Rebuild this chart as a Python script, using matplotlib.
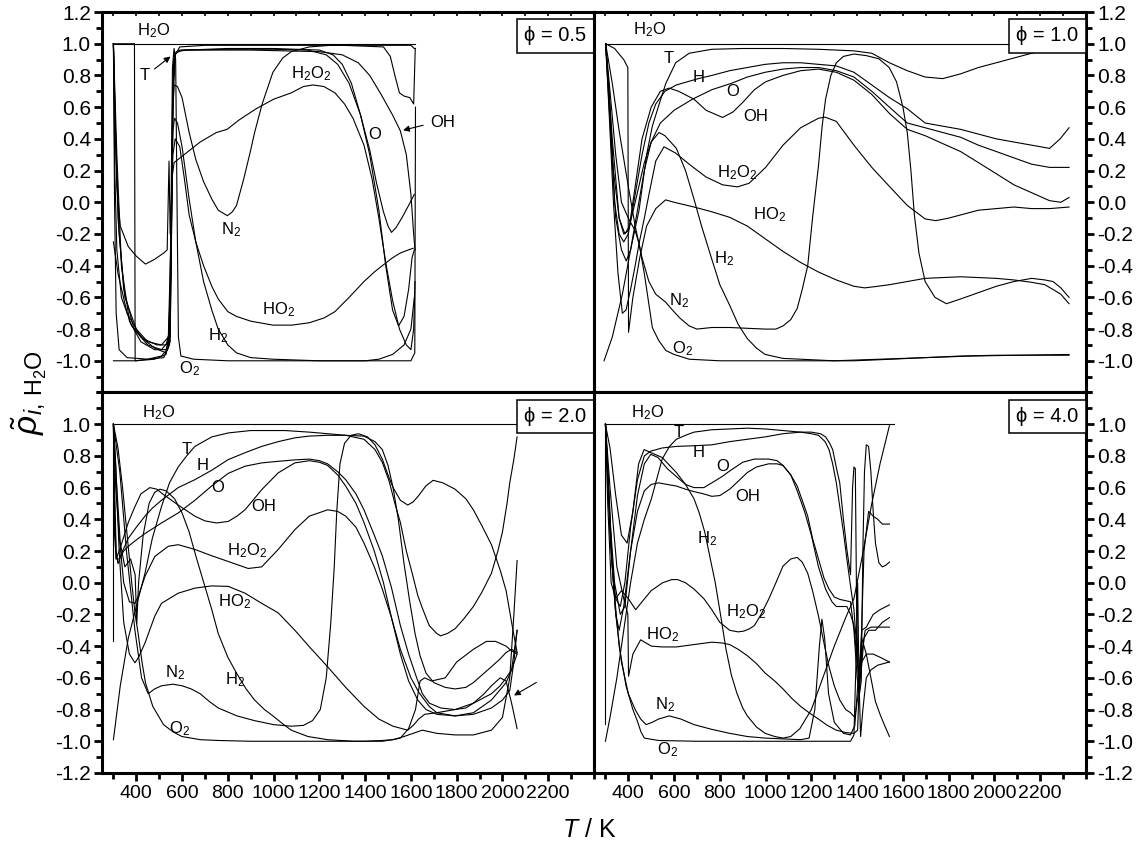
import matplotlib.pyplot as plt
from matplotlib.ticker import FixedLocator, MultipleLocator

plt.rcParams["font.family"] = ["Liberation Sans", "DejaVu Sans"]
plt.rcParams["mathtext.fontset"] = "custom"
plt.rcParams["mathtext.rm"] = "Liberation Sans"
plt.rcParams["mathtext.it"] = "Liberation Sans:italic"
plt.rcParams["mathtext.bf"] = "Liberation Sans:bold"
plt.rcParams["mathtext.default"] = "regular"
plt.rcParams["axes.unicode_minus"] = False

# correlation coefficient with H2O vs temperature, (T [K], rho) pairs per species

phi05 = {
    "H2O": [(300, 1.0), (1620, 1.0)],
    "H": [(300, 1.0), (392, 1.0), (395, -1.0), (450, -0.99), (510, -0.97), (540, -0.92), (552, -0.4),
          (560, 0.6), (570, 0.93), (590, 0.98), (700, 0.99), (1000, 0.99), (1300, 0.99), (1480, 0.98),
          (1510, 0.92), (1530, 0.8), (1550, 0.69), (1570, 0.67), (1595, 0.66), (1612, 0.62), (1619, 0.97)],
    "N2": [(300, 1.0), (310, 0.4), (325, -0.2), (350, -0.6), (400, -0.8), (450, -0.88), (510, -0.9),
           (540, -0.85), (552, -0.2), (558, 0.5), (565, 0.74), (580, 0.73), (600, 0.66), (631, 0.44),
           (660, 0.27), (694, 0.13), (730, 0.02), (758, -0.05), (798, -0.085), (820, -0.06), (838, -0.02),
           (870, 0.15), (900, 0.33), (917, 0.44), (950, 0.62), (997, 0.82), (1040, 0.91), (1077, 0.95),
           (1156, 0.98), (1250, 0.99), (1600, 0.99), (1615, 0.97), (1620, 0.97)],
    "T": [(300, 1.0), (305, 0.0), (312, -0.7), (325, -0.93), (360, -0.98), (450, -0.99), (520, -0.98),
          (545, -0.9), (553, -0.2), (558, 0.6), (563, 0.9), (575, 0.95), (620, 0.96), (800, 0.97),
          (1000, 0.97), (1200, 0.96), (1260, 0.93), (1300, 0.87), (1340, 0.75), (1380, 0.55), (1420, 0.3),
          (1460, -0.05), (1490, -0.4), (1520, -0.68), (1546, -0.78), (1570, -0.72), (1590, -0.55),
          (1605, -0.35), (1615, -0.3)],
    "O": [(300, 1.0), (315, 0.3), (335, -0.4), (370, -0.75), (420, -0.88), (480, -0.93), (530, -0.93),
          (548, -0.85), (554, -0.1), (560, 0.7), (568, 0.93), (590, 0.96), (800, 0.965), (1000, 0.965),
          (1150, 0.96), (1230, 0.93), (1280, 0.87), (1330, 0.75), (1380, 0.55), (1420, 0.33), (1450, 0.12),
          (1480, -0.06), (1500, -0.15), (1515, -0.19), (1535, -0.16), (1560, -0.1), (1590, -0.02),
          (1615, 0.05)],
    "OH": [(300, -0.25), (320, -0.45), (360, -0.7), (420, -0.85), (480, -0.92), (530, -0.95), (548, -0.88),
           (555, -0.1), (561, 0.75), (570, 0.94), (600, 0.96), (900, 0.96), (1200, 0.95), (1300, 0.93),
           (1370, 0.88), (1420, 0.8), (1470, 0.68), (1520, 0.55), (1554, 0.45), (1580, 0.3), (1600, 0.05),
           (1612, -0.2), (1618, -0.3)],
    "H2O2": [(300, 1.0), (308, 0.5), (320, -0.1), (345, -0.55), (390, -0.8), (450, -0.9), (510, -0.93),
             (540, -0.88), (550, -0.5), (556, 0.15), (565, 0.25), (600, 0.29), (679, 0.38), (750, 0.44),
             (797, 0.46), (850, 0.52), (924, 0.59), (1000, 0.65), (1077, 0.69), (1130, 0.73), (1172, 0.74),
             (1220, 0.73), (1268, 0.69), (1310, 0.62), (1347, 0.53), (1395, 0.36), (1430, 0.15),
             (1460, -0.1), (1490, -0.38), (1520, -0.62), (1550, -0.8), (1580, -0.9), (1600, -0.93),
             (1612, -0.8), (1618, -0.5)],
    "HO2": [(300, 1.0), (305, 0.6), (315, 0.1), (330, -0.15), (365, -0.28), (400, -0.34), (440, -0.39),
            (480, -0.36), (520, -0.32), (535, -0.3), (543, 0.26), (548, -0.2), (553, 0.0), (560, 0.3),
            (570, 0.4), (590, 0.35), (610, 0.15), (631, -0.08), (660, -0.25), (694, -0.4), (730, -0.53),
            (758, -0.61), (800, -0.69), (838, -0.72), (900, -0.75), (997, -0.775), (1080, -0.775),
            (1156, -0.76), (1220, -0.73), (1268, -0.69), (1330, -0.6), (1395, -0.5), (1440, -0.44),
            (1475, -0.4), (1520, -0.35), (1554, -0.32), (1590, -0.3), (1610, -0.29)],
    "H2": [(300, 1.0), (306, 0.2), (315, -0.3), (335, -0.6), (380, -0.78), (430, -0.86), (490, -0.9),
           (530, -0.9), (548, -0.8), (554, 0.0), (560, 0.45), (567, 0.53), (580, 0.5), (600, 0.35),
           (631, 0.02), (660, -0.25), (694, -0.5), (730, -0.68), (758, -0.8), (800, -0.9), (838, -0.95),
           (900, -0.98), (997, -0.99), (1200, -1.0), (1400, -1.0), (1460, -0.99), (1520, -0.96),
           (1570, -0.9), (1600, -0.8), (1615, -0.6)],
    "O2": [(300, -1.0), (400, -1.0), (480, -0.99), (530, -0.96), (545, -0.8), (552, 0.0), (558, 0.85),
           (565, 0.97), (572, 0.9), (578, 0.0), (584, -0.85), (595, -0.97), (650, -0.99), (800, -1.0),
           (1600, -1.0), (1617, -0.95), (1620, 0.6)],
}

phi10 = {
    "H2O": [(300, 1.0), (2330, 1.0)],
    "T": [(294, -1.0), (330, -0.85), (374, -0.58), (410, -0.3), (447, -0.05), (480, 0.3), (505, 0.48),
          (535, 0.62), (564, 0.75), (607, 0.88), (666, 0.94), (765, 0.965), (900, 0.97), (1076, 0.97),
          (1231, 0.965), (1386, 0.955), (1464, 0.94), (1541, 0.88), (1619, 0.83), (1697, 0.79),
          (1774, 0.78), (1852, 0.81), (1930, 0.85), (2008, 0.88), (2085, 0.91), (2163, 0.94), (2250, 0.97)],
    "H": [(301, 1.0), (320, 0.6), (340, 0.0), (360, -0.2), (380, -0.25), (400, -0.2), (430, 0.05),
          (460, 0.3), (490, 0.5), (520, 0.62), (560, 0.7), (610, 0.74), (706, 0.78), (765, 0.8),
          (843, 0.83), (920, 0.85), (998, 0.87), (1076, 0.88), (1153, 0.88), (1231, 0.87), (1309, 0.86),
          (1386, 0.82), (1464, 0.74), (1541, 0.66), (1619, 0.59), (1697, 0.5), (1774, 0.48), (1852, 0.46),
          (1930, 0.43), (2008, 0.4), (2085, 0.38), (2163, 0.36), (2241, 0.34), (2287, 0.4), (2326, 0.47)],
    "O": [(301, 1.0), (320, 0.5), (345, -0.1), (370, -0.3), (391, -0.37), (410, -0.3), (440, -0.05),
          (470, 0.2), (500, 0.38), (540, 0.5), (600, 0.58), (680, 0.65), (765, 0.71), (850, 0.75),
          (920, 0.79), (998, 0.82), (1076, 0.84), (1153, 0.85), (1231, 0.85), (1309, 0.83), (1386, 0.79),
          (1464, 0.7), (1541, 0.6), (1619, 0.5), (1697, 0.47), (1774, 0.44), (1852, 0.41), (1930, 0.36),
          (2008, 0.32), (2085, 0.28), (2163, 0.24), (2241, 0.22), (2326, 0.22)],
    "OH": [(301, 1.0), (315, 0.7), (335, 0.2), (360, -0.1), (385, -0.2), (405, -0.15), (430, 0.1),
           (460, 0.4), (500, 0.6), (540, 0.7), (578, 0.72), (620, 0.7), (687, 0.65), (740, 0.58),
           (812, 0.535), (858, 0.57), (900, 0.63), (951, 0.71), (1000, 0.76), (1076, 0.8), (1153, 0.83),
           (1231, 0.84), (1309, 0.82), (1386, 0.77), (1464, 0.68), (1541, 0.56), (1619, 0.46), (1697, 0.42),
           (1774, 0.37), (1852, 0.32), (1930, 0.25), (2008, 0.18), (2085, 0.11), (2163, 0.06), (2241, 0.01),
           (2290, 0.0), (2326, 0.03)],
    "H2O2": [(301, 1.0), (315, 0.6), (335, 0.0), (355, -0.45), (374, -0.7), (390, -0.68), (410, -0.55),
             (430, -0.4), (447, -0.26), (470, -0.1), (491, 0.055), (520, 0.26), (556, 0.35), (607, 0.31),
             (666, 0.24), (739, 0.16), (812, 0.11), (877, 0.097), (928, 0.12), (1000, 0.22), (1076, 0.36),
             (1153, 0.47), (1231, 0.53), (1260, 0.537), (1309, 0.51), (1386, 0.36), (1464, 0.22),
             (1541, 0.1), (1619, -0.02), (1697, -0.105), (1743, -0.116), (1800, -0.1), (1852, -0.08),
             (1930, -0.05), (2008, -0.04), (2085, -0.03), (2163, -0.04), (2241, -0.04), (2326, -0.03)],
    "HO2": [(301, 1.0), (340, 0.97), (380, 0.9), (398, 0.85), (401, -0.82), (420, -0.6), (450, -0.35),
            (480, -0.15), (520, -0.04), (563, 0.015), (600, 0.0), (687, -0.03), (765, -0.06), (843, -0.095),
            (920, -0.15), (998, -0.23), (1076, -0.31), (1153, -0.38), (1231, -0.44), (1309, -0.49),
            (1386, -0.53), (1433, -0.54), (1490, -0.53), (1541, -0.52), (1619, -0.5), (1697, -0.48),
            (1774, -0.475), (1852, -0.47), (1930, -0.475), (2008, -0.48), (2085, -0.49), (2163, -0.505),
            (2220, -0.52), (2256, -0.55), (2290, -0.58), (2326, -0.64)],
    "H2": [(301, 1.0), (330, 0.4), (360, -0.1), (380, -0.2), (400, -0.18), (430, 0.0), (470, 0.25),
           (500, 0.38), (534, 0.44), (560, 0.42), (610, 0.34), (650, 0.2), (687, 0.02), (720, -0.15),
           (765, -0.36), (800, -0.52), (843, -0.65), (880, -0.77), (920, -0.86), (960, -0.92), (998, -0.96),
           (1076, -0.985), (1153, -0.99), (1300, -1.0), (1500, -0.99), (1700, -0.98), (1900, -0.97),
           (2100, -0.965), (2326, -0.96)],
    "N2": [(301, 1.0), (330, 0.75), (360, 0.45), (400, 0.1), (430, -0.15), (460, -0.35), (490, -0.5),
           (520, -0.58), (563, -0.63), (593, -0.68), (625, -0.73), (666, -0.78), (700, -0.8), (765, -0.79),
           (843, -0.79), (920, -0.795), (998, -0.8), (1045, -0.8), (1076, -0.78), (1110, -0.74),
           (1138, -0.67), (1160, -0.55), (1184, -0.4), (1205, -0.1), (1231, 0.23), (1247, 0.48),
           (1262, 0.65), (1285, 0.8), (1309, 0.88), (1340, 0.92), (1386, 0.935), (1440, 0.925),
           (1495, 0.905), (1540, 0.85), (1572, 0.76), (1600, 0.6), (1619, 0.44), (1635, 0.2), (1650, -0.08),
           (1670, -0.32), (1697, -0.5), (1740, -0.6), (1790, -0.64), (1852, -0.61), (1930, -0.57),
           (2008, -0.53), (2085, -0.5), (2163, -0.48), (2220, -0.49), (2256, -0.5), (2290, -0.54),
           (2326, -0.6)],
    "O2": [(301, 1.0), (320, 0.7), (345, 0.3), (370, 0.0), (400, -0.1), (430, -0.18), (447, -0.26),
           (470, -0.45), (505, -0.79), (532, -0.87), (564, -0.935), (600, -0.96), (666, -0.99), (800, -1.0),
           (1000, -1.0), (1386, -1.0), (1550, -0.99), (1697, -0.98), (1850, -0.97), (2008, -0.965),
           (2200, -0.965), (2326, -0.965)],
}

phi20 = {
    "H2O": [(300, -0.37), (300, 1.0), (2064, 1.0)],
    "T": [(300, -0.99), (330, -0.65), (365, -0.35), (400, -0.15), (438, 0.06), (470, 0.28), (510, 0.48),
          (545, 0.63), (583, 0.73), (620, 0.8), (656, 0.86), (730, 0.92), (802, 0.945), (900, 0.96),
          (1050, 0.96), (1156, 0.95), (1236, 0.94), (1315, 0.93), (1395, 0.905), (1443, 0.84), (1475, 0.76),
          (1505, 0.64), (1530, 0.5), (1554, 0.38), (1580, 0.2), (1602, 0.08), (1630, -0.08), (1650, -0.16),
          (1680, -0.27), (1713, -0.32), (1729, -0.335), (1760, -0.32), (1793, -0.29), (1830, -0.23),
          (1873, -0.15), (1910, -0.06), (1952, 0.06), (1980, 0.2), (2000, 0.32), (2020, 0.5), (2032, 0.63),
          (2050, 0.78), (2064, 0.92)],
    "H": [(300, 1.0), (305, 0.6), (312, 0.2), (320, 0.12), (340, 0.2), (365, 0.28), (400, 0.35), (438, 0.42),
          (470, 0.47), (510, 0.52), (583, 0.6), (656, 0.65), (730, 0.71), (802, 0.777), (875, 0.82),
          (948, 0.86), (1020, 0.89), (1093, 0.914), (1156, 0.925), (1236, 0.93), (1315, 0.93), (1395, 0.925),
          (1443, 0.89), (1475, 0.84), (1500, 0.74), (1522, 0.6), (1545, 0.4), (1570, 0.12), (1595, -0.12),
          (1618, -0.32), (1640, -0.46), (1666, -0.57), (1700, -0.63), (1750, -0.66), (1793, -0.67),
          (1840, -0.66), (1873, -0.63), (1920, -0.57), (1952, -0.53), (1990, -0.48), (2016, -0.44),
          (2040, -0.42), (2064, -0.44)],
    "O": [(300, 1.0), (305, 0.5), (312, 0.15), (325, 0.15), (345, 0.2), (365, 0.23), (400, 0.27),
          (438, 0.31), (510, 0.377), (583, 0.44), (656, 0.52), (729, 0.61), (802, 0.69), (875, 0.735),
          (948, 0.756), (1020, 0.766), (1093, 0.775), (1156, 0.78), (1200, 0.77), (1236, 0.75), (1280, 0.7),
          (1315, 0.65), (1360, 0.56), (1395, 0.46), (1440, 0.3), (1475, 0.17), (1515, -0.03), (1554, -0.27),
          (1590, -0.45), (1618, -0.57), (1650, -0.7), (1681, -0.76), (1730, -0.79), (1793, -0.8),
          (1840, -0.79), (1873, -0.76), (1920, -0.7), (1952, -0.65), (1990, -0.6), (2016, -0.62),
          (2040, -0.76), (2064, -0.92)],
    "OH": [(300, 1.0), (305, 0.3), (312, 0.15), (330, 0.22), (365, 0.38), (394, 0.48), (420, 0.56),
           (459, 0.6), (490, 0.59), (510, 0.566), (583, 0.49), (656, 0.42), (700, 0.39), (751, 0.377),
           (802, 0.387), (840, 0.42), (875, 0.46), (910, 0.52), (948, 0.587), (1020, 0.693), (1093, 0.756),
           (1156, 0.77), (1200, 0.76), (1236, 0.74), (1280, 0.68), (1315, 0.61), (1360, 0.5), (1395, 0.38),
           (1440, 0.2), (1480, 0.0), (1520, -0.25), (1554, -0.45), (1590, -0.62), (1630, -0.74),
           (1666, -0.8), (1713, -0.83), (1793, -0.84), (1873, -0.83), (1952, -0.79), (2000, -0.74),
           (2032, -0.68), (2050, -0.5), (2064, -0.3)],
    "H2O2": [(300, 1.0), (310, 0.6), (325, 0.3), (345, 0.0), (370, -0.12), (394, -0.13), (410, -0.08),
             (438, 0.04), (481, 0.166), (540, 0.23), (583, 0.24), (656, 0.21), (730, 0.17), (802, 0.134),
             (889, 0.09), (948, 0.1), (1020, 0.21), (1093, 0.335), (1156, 0.42), (1236, 0.46), (1280, 0.45),
             (1315, 0.42), (1360, 0.35), (1395, 0.25), (1440, 0.1), (1475, -0.04), (1515, -0.22),
             (1554, -0.42), (1600, -0.6), (1634, -0.69), (1680, -0.78), (1713, -0.82), (1793, -0.84),
             (1873, -0.82), (1952, -0.74), (2016, -0.63), (2040, -0.55), (2064, -0.3)],
    "HO2": [(300, 1.0), (310, 0.75), (325, 0.2), (345, -0.25), (370, -0.45), (394, -0.505), (410, -0.47),
            (438, -0.38), (481, -0.21), (510, -0.13), (583, -0.066), (656, -0.034), (729, -0.02),
            (802, -0.023), (875, -0.066), (948, -0.13), (1020, -0.19), (1093, -0.3), (1160, -0.41),
            (1236, -0.53), (1315, -0.66), (1395, -0.78), (1460, -0.86), (1522, -0.905), (1586, -0.93),
            (1610, -0.9), (1634, -0.86), (1660, -0.83), (1713, -0.82), (1793, -0.8), (1873, -0.76),
            (1952, -0.7), (1990, -0.65), (2016, -0.6), (2040, -0.55), (2064, -0.45)],
    "N2": [(300, 1.0), (328, 0.7), (357, 0.2), (394, -0.3), (423, -0.6), (452, -0.7), (480, -0.67),
           (510, -0.65), (560, -0.64), (600, -0.65), (640, -0.67), (679, -0.7), (720, -0.75), (758, -0.79),
           (840, -0.84), (917, -0.87), (1000, -0.895), (1077, -0.905), (1130, -0.9), (1170, -0.87),
           (1204, -0.8), (1230, -0.6), (1250, -0.25), (1265, 0.1), (1276, 0.45), (1290, 0.75), (1310, 0.88),
           (1339, 0.93), (1371, 0.94), (1410, 0.92), (1443, 0.87), (1475, 0.78), (1500, 0.68), (1522, 0.6),
           (1554, 0.52), (1586, 0.49), (1610, 0.51), (1634, 0.55), (1665, 0.61), (1697, 0.646),
           (1740, 0.63), (1793, 0.59), (1840, 0.53), (1873, 0.46), (1910, 0.36), (1952, 0.24), (1990, 0.08),
           (2016, -0.05), (2040, -0.25), (2064, -0.44)],
    "H2": [(300, 1.0), (315, 0.6), (330, 0.25), (350, 0.1), (375, 0.15), (395, 0.05), (402, -0.26),
           (410, 0.0), (430, 0.3), (456, 0.5), (480, 0.57), (503, 0.59), (530, 0.58), (567, 0.53),
           (600, 0.44), (631, 0.32), (660, 0.17), (695, 0.0), (730, -0.17), (758, -0.32), (800, -0.47),
           (838, -0.57), (880, -0.67), (917, -0.74), (960, -0.8), (997, -0.84), (1040, -0.89), (1077, -0.93),
           (1150, -0.97), (1236, -0.99), (1350, -1.0), (1475, -1.0), (1520, -0.99), (1554, -0.98),
           (1590, -0.92), (1620, -0.8), (1640, -0.62), (1660, -0.6), (1690, -0.62), (1750, -0.6),
           (1800, -0.5), (1873, -0.42), (1930, -0.37), (1970, -0.37), (2016, -0.4), (2040, -0.43),
           (2064, -0.45)],
    "O2": [(300, 1.0), (320, 0.85), (340, 0.6), (360, 0.3), (380, 0.0), (395, -0.2), (408, -0.32),
           (425, -0.5), (440, -0.63), (472, -0.78), (519, -0.895), (560, -0.94), (599, -0.97), (680, -0.99),
           (758, -0.995), (900, -1.0), (1077, -1.0), (1250, -1.0), (1395, -1.0), (1475, -0.995),
           (1522, -0.99), (1570, -0.97), (1610, -0.95), (1650, -0.93), (1713, -0.95), (1793, -0.96),
           (1873, -0.96), (1952, -0.93), (2000, -0.85), (2032, -0.6), (2050, -0.2), (2064, 0.14)],
}

phi40 = {
    "H2O": [(300, -0.89), (300, 1.0), (1560, 1.0)],
    "T": [(300, -1.0), (320, -0.85), (350, -0.6), (380, -0.3), (410, 0.0), (440, 0.25), (470, 0.4),
          (501, 0.53), (548, 0.78), (580, 0.86), (610, 0.905), (650, 0.93), (687, 0.95), (765, 0.965),
          (843, 0.97), (920, 0.975), (998, 0.97), (1076, 0.96), (1153, 0.95), (1200, 0.94), (1231, 0.93),
          (1260, 0.89), (1277, 0.84), (1293, 0.75), (1309, 0.63), (1325, 0.47), (1340, 0.32), (1355, 0.15),
          (1371, -0.02), (1386, -0.17), (1400, -0.45), (1410, -0.7), (1418, -0.62), (1425, 0.2),
          (1432, 0.7), (1440, 0.87), (1450, 0.86), (1460, 0.7), (1470, 0.45), (1480, 0.25), (1495, 0.126),
          (1510, 0.1), (1525, 0.11), (1541, 0.13)],
    "H": [(300, 1.0), (315, 0.6), (330, 0.1), (345, -0.1), (365, -0.15), (385, 0.0), (410, 0.35),
          (440, 0.65), (470, 0.8), (498, 0.83), (548, 0.85), (610, 0.86), (700, 0.865), (765, 0.87),
          (843, 0.89), (920, 0.905), (998, 0.92), (1076, 0.94), (1153, 0.95), (1200, 0.95), (1240, 0.94),
          (1262, 0.92), (1280, 0.88), (1293, 0.84), (1310, 0.72), (1324, 0.63), (1340, 0.4), (1355, 0.21),
          (1371, 0.05), (1380, 0.6), (1386, 0.73), (1392, 0.72), (1398, -0.2), (1405, -0.62), (1415, -0.5),
          (1430, 0.2), (1450, 0.45), (1470, 0.42), (1490, 0.4), (1510, 0.37), (1541, 0.37)],
    "O": [(300, 1.0), (320, 0.4), (340, 0.0), (365, -0.2), (385, -0.15), (410, 0.2), (440, 0.55),
          (470, 0.75), (498, 0.81), (530, 0.79), (570, 0.72), (610, 0.67), (650, 0.62), (687, 0.6),
          (730, 0.6), (765, 0.63), (810, 0.67), (843, 0.705), (900, 0.76), (951, 0.78), (1013, 0.78),
          (1050, 0.77), (1076, 0.74), (1110, 0.68), (1138, 0.61), (1160, 0.52), (1184, 0.42), (1205, 0.28),
          (1231, 0.15), (1255, 0.03), (1277, -0.04), (1300, -0.09), (1324, -0.105), (1355, -0.115),
          (1371, -0.12), (1386, -0.3), (1400, -0.6), (1410, -0.7), (1420, -0.45), (1435, -0.3),
          (1460, -0.28), (1490, -0.28), (1541, -0.28)],
    "OH": [(301, 1.0), (320, 0.3), (345, -0.2), (360, -0.3), (380, -0.15), (410, 0.2), (440, 0.45),
           (470, 0.58), (500, 0.62), (532, 0.63), (570, 0.62), (610, 0.61), (650, 0.59), (687, 0.575),
           (730, 0.56), (765, 0.545), (800, 0.55), (843, 0.59), (880, 0.64), (920, 0.695), (960, 0.73),
           (1013, 0.75), (1050, 0.75), (1076, 0.74), (1110, 0.68), (1138, 0.58), (1170, 0.45), (1200, 0.3),
           (1231, 0.1), (1262, -0.04), (1290, -0.12), (1309, -0.15), (1340, -0.15), (1355, -0.15),
           (1371, -0.2), (1386, -0.27), (1400, -0.5), (1415, -0.6), (1430, -0.35), (1450, -0.3),
           (1480, -0.3), (1510, -0.25), (1541, -0.22)],
    "H2O2": [(300, 1.0), (310, 0.5), (325, 0.0), (345, -0.1), (370, -0.05), (400, -0.1), (432, -0.17),
             (460, -0.12), (500, -0.05), (550, 0.0), (590, 0.02), (615, 0.02), (650, 0.0), (687, -0.04),
             (730, -0.1), (765, -0.17), (800, -0.25), (843, -0.3), (880, -0.31), (905, -0.305),
             (930, -0.29), (951, -0.27), (980, -0.2), (1013, -0.105), (1045, 0.0), (1076, 0.105),
             (1110, 0.15), (1138, 0.16), (1160, 0.13), (1184, 0.06), (1205, -0.05), (1231, -0.21),
             (1255, -0.38), (1277, -0.53), (1300, -0.65), (1324, -0.74), (1350, -0.8), (1371, -0.82),
             (1390, -0.85), (1405, -0.7), (1410, -0.55), (1420, -0.5), (1440, -0.45), (1470, -0.45),
             (1500, -0.47), (1541, -0.5)],
    "HO2": [(300, 1.0), (320, 0.6), (350, 0.1), (380, -0.1), (398, -0.2), (401, -0.59), (420, -0.45),
            (454, -0.36), (501, -0.4), (549, -0.405), (610, -0.405), (687, -0.39), (765, -0.375),
            (810, -0.38), (843, -0.39), (880, -0.42), (920, -0.46), (960, -0.51), (998, -0.57),
            (1040, -0.62), (1076, -0.67), (1115, -0.73), (1153, -0.78), (1190, -0.82), (1231, -0.86),
            (1270, -0.9), (1309, -0.93), (1350, -0.945), (1386, -0.95), (1402, -0.93), (1410, -0.6),
            (1420, -0.3), (1440, -0.28), (1470, -0.2), (1500, -0.17), (1541, -0.14)],
    "N2": [(300, 1.0), (310, 0.7), (325, 0.2), (345, -0.2), (370, -0.5), (400, -0.7), (430, -0.8),
           (454, -0.86), (478, -0.895), (505, -0.88), (532, -0.86), (579, -0.84), (630, -0.86),
           (687, -0.895), (765, -0.925), (843, -0.95), (920, -0.97), (998, -0.98), (1076, -0.985),
           (1153, -0.99), (1190, -0.98), (1215, -0.8), (1235, -0.4), (1246, -0.23), (1258, -0.35),
           (1275, -0.7), (1300, -0.88), (1340, -0.95), (1371, -0.96), (1390, -0.9), (1405, -0.6),
           (1420, -0.35), (1440, -0.45), (1460, -0.6), (1480, -0.75), (1500, -0.83), (1520, -0.9),
           (1541, -0.97)],
    "H2": [(300, 1.0), (320, 0.85), (345, 0.55), (370, 0.3), (395, 0.25), (420, 0.45), (445, 0.75),
           (469, 0.84), (500, 0.82), (548, 0.79), (610, 0.695), (650, 0.62), (687, 0.53), (710, 0.44),
           (734, 0.32), (757, 0.16), (780, 0.0), (805, -0.22), (827, -0.42), (850, -0.58), (874, -0.695),
           (900, -0.79), (920, -0.84), (960, -0.91), (998, -0.95), (1040, -0.97), (1076, -0.98),
           (1110, -0.97), (1150, -0.92), (1200, -0.8), (1250, -0.6), (1300, -0.4), (1350, -0.22),
           (1386, -0.1), (1420, 0.15), (1464, 0.5), (1500, 0.75), (1541, 0.99)],
    "O2": [(300, 1.0), (315, 0.5), (335, 0.0), (360, -0.4), (390, -0.65), (420, -0.8), (439, -0.87),
           (455, -0.94), (470, -0.98), (532, -0.995), (700, -1.0), (920, -1.0), (1200, -1.0), (1371, -1.0),
           (1386, -0.96), (1395, -0.5), (1402, 0.0), (1408, -0.6), (1415, -0.97), (1425, -0.8),
           (1440, -0.6), (1460, -0.55), (1490, -0.52), (1541, -0.5)],
}

species_text = {
    "H2O": r"H$_2$O", "T": "T", "H": "H", "O": "O", "OH": "OH",
    "H2O2": r"H$_2$O$_2$", "HO2": r"HO$_2$", "H2": r"H$_2$", "N2": r"N$_2$", "O2": r"O$_2$",
}

labels05 = {"H2O": (474, 1.08), "T": (438, 0.80), "H2O2": (1164, 0.81), "N2": (812, -0.17),
            "O": (1443, 0.43), "OH": (1740, 0.50), "HO2": (1021, -0.68), "H2": (758, -0.84),
            "O2": (633, -1.05)}
labels10 = {"H2O": (491, 1.086), "T": (578, 0.907), "H": (709, 0.79), "O": (855, 0.697),
            "OH": (958, 0.543), "H2O2": (877, 0.185), "HO2": (1016, -0.076), "H2": (819, -0.356),
            "N2": (622, -0.62), "O2": (637, -0.925)}
labels20 = {"H2O": (496, 1.07), "T": (620, 0.84), "H": (692, 0.74), "O": (755, 0.6),
            "OH": (955, 0.48), "H2O2": (882, 0.2), "HO2": (831, -0.12), "N2": (569, -0.57),
            "H2": (831, -0.61), "O2": (591, -0.92)}
labels40 = {"H2O": (483, 1.07), "T": (622, 0.945), "H": (709, 0.82), "O": (812, 0.735),
            "OH": (921, 0.545), "H2": (746, 0.28), "H2O2": (914, -0.18), "HO2": (549, -0.33),
            "N2": (561, -0.77), "O2": (571, -1.05)}

panels = [
    (phi05, labels05, "ϕ = 0.5"),
    (phi10, labels10, "ϕ = 1.0"),
    (phi20, labels20, "ϕ = 2.0"),
    (phi40, labels40, "ϕ = 4.0"),
]

fig, axes = plt.subplots(2, 2, figsize=(11.38, 8.47), dpi=100)
fig.subplots_adjust(left=0.0896, right=0.9543, top=0.9858, bottom=0.0874, wspace=0, hspace=0)

for idx, (ax, (curves, labels, title)) in enumerate(zip(axes.flat, panels)):
    row, col = divmod(idx, 2)
    for name, pts in curves.items():
        t, r = zip(*pts)
        ax.plot(t, r, color="black", lw=0.8, solid_joinstyle="round")
    for name, (tx, ty) in labels.items():
        ax.text(tx, ty, species_text[name], fontsize=12, ha="center", va="center")
    ax.text(0.985, 0.962, title, transform=ax.transAxes, ha="right", va="top", fontsize=14.5,
            bbox=dict(boxstyle="square,pad=0.35", fc="white", ec="black", lw=1.1))

    ax.set_xlim(250, 2400)
    ax.set_ylim(-1.2, 1.2)
    for s in ax.spines.values():
        s.set_linewidth(2.2)

    ax.xaxis.set_major_locator(FixedLocator(list(range(400, 2201, 200))))
    ax.xaxis.set_minor_locator(MultipleLocator(100))
    if row == 0:
        yt = [round(-1.0 + 0.2 * k, 1) for k in range(12)]
        ax.xaxis.tick_top()
        ax.tick_params(axis="x", which="both", direction="in", length=3, width=1.2, labeltop=False)
    else:
        yt = [round(-1.2 + 0.2 * k, 1) for k in range(12)]
        ax.tick_params(axis="x", which="major", direction="out", length=6, width=2, labelsize=14, pad=3)
        ax.tick_params(axis="x", which="minor", direction="out", length=4, width=2)
        ax.tick_params(axis="x", which="both", top=False)
    ax.yaxis.set_major_locator(FixedLocator(yt))
    ax.yaxis.set_minor_locator(MultipleLocator(0.1))
    ax.set_yticklabels([f"{v:.1f}" for v in yt])
    if col == 0:
        ax.yaxis.tick_left()
    else:
        ax.yaxis.tick_right()
    ax.tick_params(axis="y", which="major", direction="out", length=6, width=2, labelsize=15, pad=2)
    ax.tick_params(axis="y", which="minor", direction="out", length=4, width=2)

arrow = dict(arrowstyle="-|>", color="black", lw=0.8, mutation_scale=9)
axes[0, 0].annotate("", xy=(559, 0.93), xytext=(470, 0.83), arrowprops=arrow)
axes[0, 0].annotate("", xy=(1554, 0.45), xytext=(1665, 0.49), arrowprops=arrow)
axes[1, 0].annotate("", xy=(2040, -0.72), xytext=(2159, -0.62), arrowprops=arrow)

fig.text(0.026, 0.536, r"$\tilde{\mathit{\rho}}_{\mathit{i},\,\mathrm{H_2O}}$", rotation=90,
         fontsize=24, ha="center", va="center")
fig.text(0.518, 0.02, r"$\mathit{T}$ / K", fontsize=18, ha="center", va="center")

fig.savefig("out.png", dpi=100)
